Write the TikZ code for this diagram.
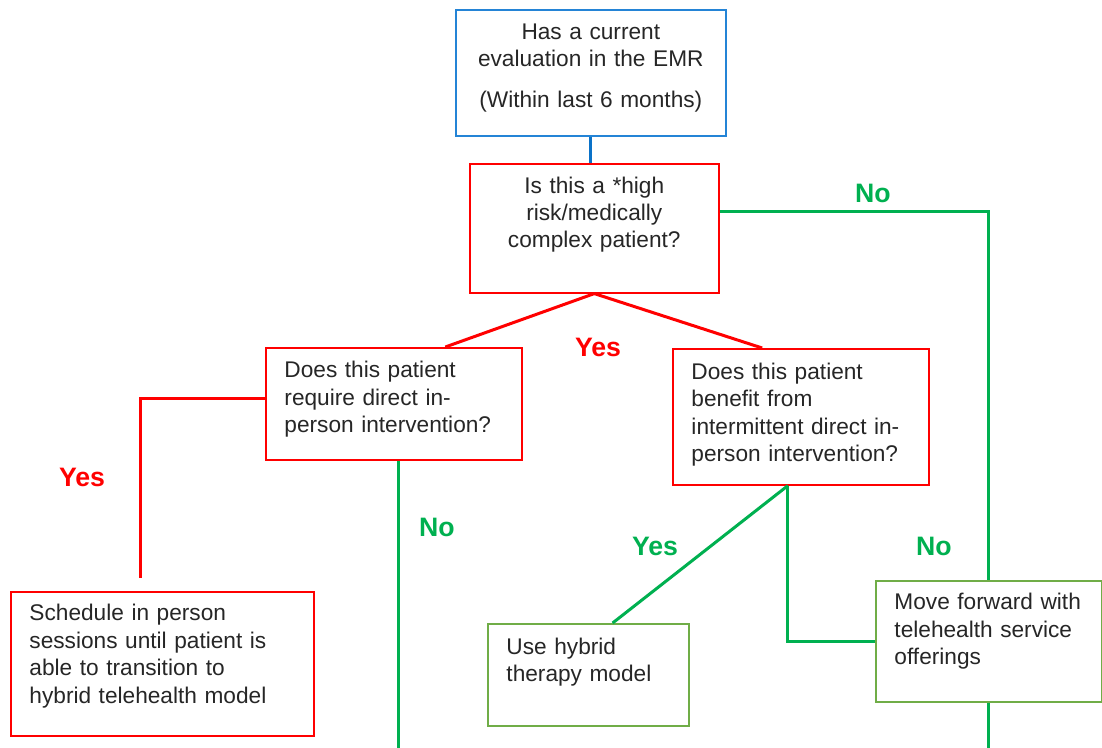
\documentclass[tikz,border=0pt]{standalone}
\usepackage{fontspec}
\setmainfont{Liberation Sans}
\usetikzlibrary{calc}
\usepackage{xcolor}
\definecolor{boxblue}{HTML}{2484D6}
\definecolor{lineblue}{HTML}{0A72C8}
\definecolor{boxred}{HTML}{FF0000}
\definecolor{linegreen}{HTML}{00B050}
\definecolor{boxgreen}{HTML}{70AD47}
\definecolor{textgray}{HTML}{262626}

\begin{document}
\begin{tikzpicture}[x=0.75pt, y=-0.75pt,
  box/.style={draw, line width=1.2pt, anchor=north west, inner xsep=14pt, inner ysep=0pt, text=textgray, align=left, font=\fontsize{17}{20.6}\selectfont},
  conn/.style={line width=2.25pt},
  answer/.style={font=\fontsize{20}{24}\selectfont\bfseries}]
\useasboundingbox (0,0) rectangle (1102,748);
\coordinate (bottom) at (0,748);

\node[box, draw=boxblue, align=center, text width=174.5pt, minimum height=94.5pt, text depth=61.7pt] (eval) at (455,9) {Has a current\\evaluation in the EMR\\[10pt](Within last 6 months)};
\node[box, draw=boxred, align=center, text width=158.75pt, minimum height=96.75pt, text depth=65.2pt] (risk) at (469,163) {Is this a *high\\risk/medically\\complex patient?};
\node[box, draw=boxred, text width=164pt, minimum height=84pt, text depth=51.7pt] (direct) at (265,347) {Does this patient\\require direct in-\\person intervention?};
\node[box, draw=boxred, text width=164pt, minimum height=102pt, text depth=68.8pt] (benefit) at (672,348) {Does this patient\\benefit from\\intermittent direct in-\\person intervention?};
\node[box, draw=boxred, text width=199.25pt, minimum height=108pt, text depth=76.8pt] (schedule) at (10,591) {Schedule in person\\sessions until patient is\\able to transition to\\hybrid telehealth model};
\node[box, draw=boxgreen, text width=122.75pt, minimum height=76.5pt, text depth=43.1pt] (hybrid) at (487,623) {Use hybrid\\therapy model};
\node[box, draw=boxgreen, text width=141.5pt, minimum height=90.75pt, text depth=59.7pt] (move) at (875,580) {Move forward with\\telehealth service\\offerings};

\node[answer, text=boxred] (yesrisk) at (598,347) {Yes};
\node[answer, text=linegreen] (norisk) at (873,193) {No};
\node[answer, text=boxred] (yesdirect) at (82,477) {Yes};
\node[answer, text=linegreen] (nodirect) at (437,527) {No};
\node[answer, text=linegreen] (yesbenefit) at (655,546) {Yes};
\node[answer, text=linegreen] (nobenefit) at (934,546) {No};

\draw[conn, lineblue] (eval.south) -- (eval.south |- risk.north);
\draw[conn, boxred] (risk.south) -- ($(direct.north west)!0.7!(direct.north east)$);
\draw[conn, boxred] (risk.south) -- ($(benefit.north west)!0.35!(benefit.north east)$);
\draw[conn, linegreen] ($(risk.north east)!0.37!(risk.south east)$) -| (move.north);
\draw[conn, boxred, shorten >=9.75pt] ($(direct.north west)!0.45!(direct.south west)$) -| ($(schedule.north west)!0.43!(schedule.north east)$);
\draw[conn, linegreen] ($(direct.south west)!0.52!(direct.south east)$) coordinate (directdown) -- (directdown |- bottom);
\draw[conn, linegreen] ($(benefit.south west)!0.45!(benefit.south east)$) coordinate (fork) -- ($(hybrid.north west)!0.62!(hybrid.north east)$);
\draw[conn, linegreen] (fork) |- (move.west);
\draw[conn, linegreen] (move.south) -- (move.south |- bottom);
\end{tikzpicture}
\end{document}
